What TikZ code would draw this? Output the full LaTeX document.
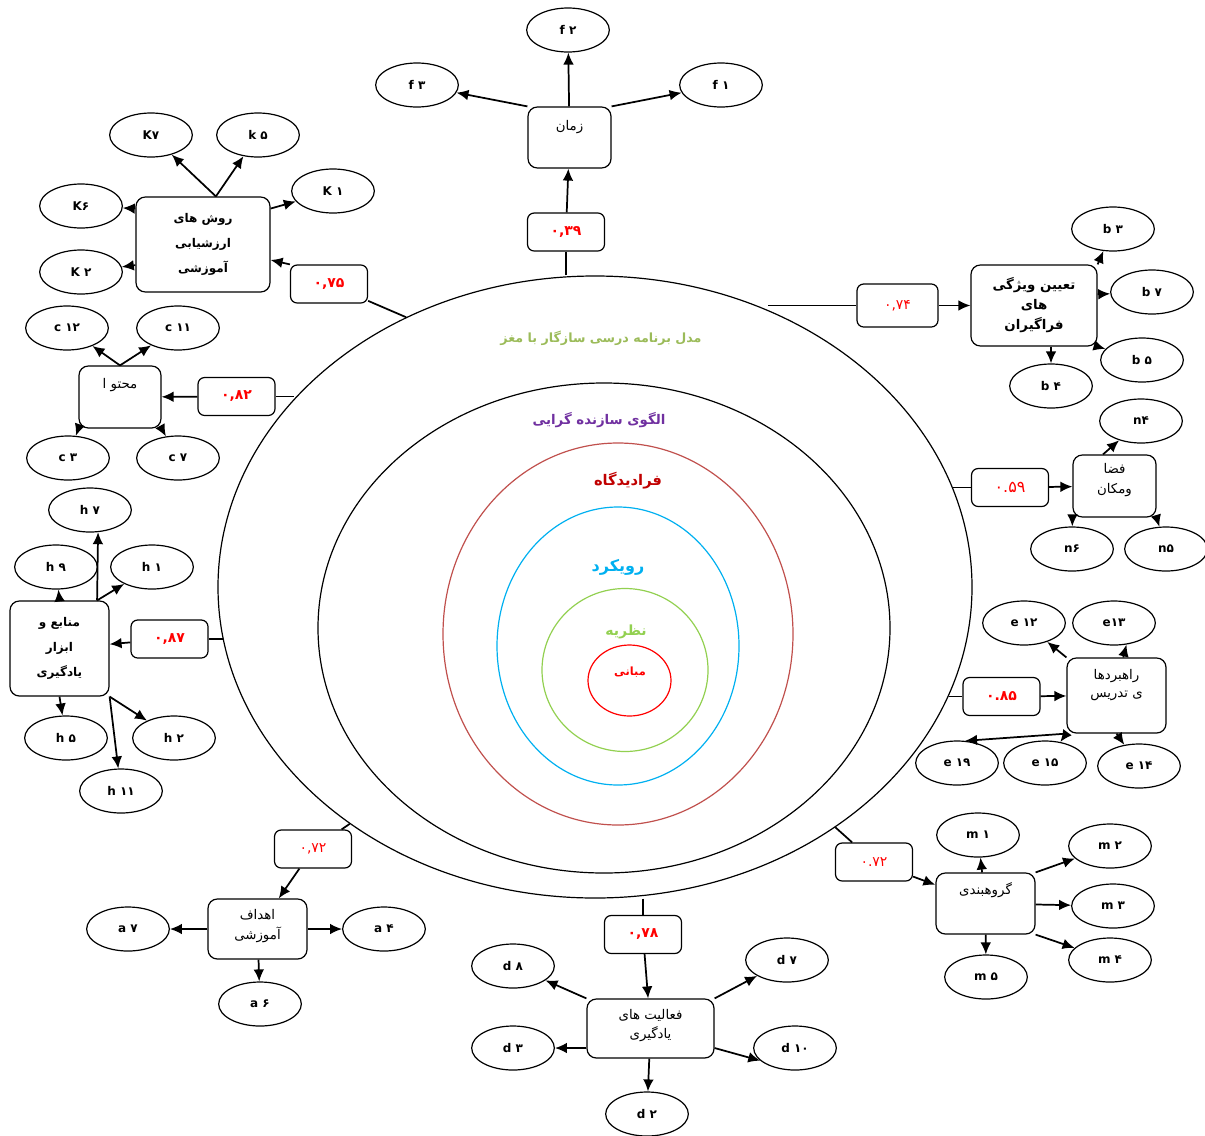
\documentclass[tikz,border=0pt]{standalone}
\usepackage{fontspec}
\setmainfont{DejaVu Sans}
\newfontfamily\fa[Script=Arabic]{DejaVu Sans}
\TeXXeTstate=1
\usetikzlibrary{shapes.geometric,arrows.meta}
\definecolor{olivegr}{HTML}{9BBB59}
\definecolor{violet}{HTML}{7030A0}
\definecolor{darkred}{HTML}{C00000}
\definecolor{skyblue}{HTML}{00B0F0}
\definecolor{leafgr}{HTML}{92D050}
\definecolor{brickred}{HTML}{C0504D}
\newcommand{\rtl}[1]{{\fa\beginR #1\endR}}

\begin{document}
\begin{tikzpicture}[x=0.75pt,y=-0.75pt,line width=1.3pt,
  >={Latex[length=9pt,width=8pt]},
  ring/.style={ellipse,draw,line width=0.9pt,inner sep=0pt},
  ringtext/.style={font=\bfseries\fontsize{10}{12}\selectfont},
  item/.style={ellipse,draw,line width=0.9pt,minimum width=62pt,minimum height=33pt,
    inner sep=0pt,font=\bfseries\fontsize{9}{11}\selectfont},
  topic/.style={draw,rounded corners=7pt,line width=0.9pt,inner sep=2pt,align=center,
    font=\fontsize{10}{14.5}\selectfont},
  coef/.style={draw,rounded corners=5pt,line width=0.9pt,minimum width=57.75pt,
    minimum height=28.5pt,text=red,font=\bfseries\fontsize{10.5}{12}\selectfont},
  lift/.style={text depth=#1}]
\useasboundingbox (0,0) rectangle (1205,1135);

% rings
\node[ring,minimum width=565.5pt,minimum height=466.5pt] (outer) at (595,587) {};
\node[ring,minimum width=429pt,minimum height=367.5pt] (second) at (604,628) {};
\node[ring,draw=brickred,minimum width=262.5pt,minimum height=286.5pt] (third) at (618,634) {};
\node[ring,draw=skyblue,minimum width=181.5pt,minimum height=208.5pt] (fourth) at (618,646) {};
\node[ring,draw=leafgr,minimum width=124.5pt,minimum height=122.25pt] (fifth) at (625,670) {};
\node[ring,draw=red,minimum width=62.25pt,minimum height=53.25pt] (core) at (629.5,680.5) {};

\node[ringtext,text=olivegr,font=\bfseries\fontsize{9.5}{11}\selectfont] (t1) at (601,338) {\rtl{مدل برنامه درسی سازگار با مغز}};
\node[ringtext,text=violet] (t2) at (599,420) {\rtl{الگوی سازنده گرایی}};
\node[ringtext,text=darkred,font=\bfseries\fontsize{11}{13}\selectfont] (t3) at (628,481) {\rtl{فرادیدگاه}};
\node[ringtext,text=skyblue,font=\bfseries\fontsize{12}{14}\selectfont] (t4) at (618,567) {\rtl{رویکرد}};
\node[ringtext,text=leafgr,font=\bfseries\fontsize{10.5}{12}\selectfont] (t5) at (626,632) {\rtl{نظریه}};
\node[ringtext,text=red,font=\bfseries\fontsize{8.5}{10}\selectfont] (t6) at (630,672) {\rtl{مبانی}};

% topics
\node[topic,minimum width=62.25pt,minimum height=45.75pt,lift=17.5pt] (zaman) at (569.5,137.5) {\rtl{زمان}};
\node[topic,minimum width=100.5pt,minimum height=71.25pt,font=\bfseries\fontsize{9}{18.75}\selectfont] (rawesh) at (203,244.5)
  {\rtl{روش های}\\\rtl{ارزشیابی}\\\rtl{آموزشی}};
\node[topic,minimum width=61.5pt,minimum height=46.5pt,lift=20.5pt] (mohtava) at (120,397) {\rtl{محتو ا}};
\node[topic,minimum width=94.5pt,minimum height=60.75pt,font=\bfseries\fontsize{10}{15}\selectfont] (taeen) at (1034,305.5)
  {\rtl{تعیین ویژگی}\\\rtl{های}\\\rtl{فراگیران}};
\node[topic,minimum width=62.25pt,minimum height=46.5pt,lift=11.5pt] (faza) at (1114.5,486) {\rtl{فضا}\\\rtl{ومکان}};
\node[topic,minimum width=74.25pt,minimum height=71.25pt,font=\bfseries\fontsize{9}{18.75}\selectfont] (manabe) at (59.5,648.5)
  {\rtl{منابع و}\\\rtl{ابزار}\\\rtl{یادگیری}};
\node[topic,minimum width=74.25pt,minimum height=56.25pt,lift=17.5pt,font=\fontsize{10}{13.5}\selectfont] (rahbord) at (1116.5,695.5) {\rtl{راهبردها}\\\rtl{ی تدریس}};
\node[topic,minimum width=74.25pt,minimum height=45.75pt,lift=22pt] (gorooh) at (985.5,903.5) {\rtl{گروهبندی}};
\node[topic,minimum width=74.25pt,minimum height=45pt,lift=7pt] (ahdaf) at (257.5,929) {\rtl{اهداف}\\\rtl{آموزشی}};
\node[topic,minimum width=95.25pt,minimum height=44.25pt,lift=7pt] (faaliat) at (650.5,1028.5) {\rtl{فعالیت های}\\\rtl{یادگیری}};

% coefficients
\node[coef] (n39) at (566,232) {۰,۳۹};
\node[coef] (n75) at (329,284) {۰,۷۵};
\node[coef] (n82) at (236.5,396.5) {۰,۸۲};
\node[coef,minimum width=60.75pt,minimum height=32.25pt,font=\fontsize{10.5}{12}\selectfont] (n74) at (897.5,305.5) {۰,۷۴};
\node[coef,font=\fontsize{12}{14}\selectfont] (n59) at (1010,487.5) {۰.۵۹};
\node[coef] (n87) at (169.5,639) {۰,۸۷};
\node[coef] (n85) at (1001.5,696.5) {۰.۸۵};
\node[coef,font=\fontsize{10.5}{12}\selectfont] (n72r) at (874,862) {۰.۷۲};
\node[coef,font=\fontsize{10.5}{12}\selectfont] (n72l) at (313,849) {۰,۷۲};
\node[coef] (n78) at (643,934.5) {۰,۷۸};

% items
\node[item] (f2) at (568,30) {f ۲};
\node[item] (f3) at (417,85) {f ۳};
\node[item] (f1) at (721,85) {f ۱};
\node[item] (k7) at (151,135) {K۷};
\node[item] (k5) at (258,135) {k ۵};
\node[item] (k1) at (333,191) {K ۱};
\node[item] (k6) at (81,206) {K۶};
\node[item] (k2) at (81,272) {K ۲};
\node[item] (c12) at (67,328) {c ۱۲};
\node[item] (c11) at (178,328) {c ۱۱};
\node[item] (c3) at (68,458) {c ۳};
\node[item] (c7) at (178,458) {c ۷};
\node[item] (b3) at (1113,229) {b ۳};
\node[item] (b7) at (1152,292) {b ۷};
\node[item] (b5) at (1142,360) {b ۵};
\node[item] (b4) at (1051,386) {b ۴};
\node[item] (nn4) at (1141,421) {n۴};
\node[item] (nn6) at (1072,549) {n۶};
\node[item] (nn5) at (1166,549) {n۵};
\node[item] (h7) at (90,510) {h ۷};
\node[item] (h9) at (56,567) {h ۹};
\node[item] (h1) at (152,567) {h ۱};
\node[item] (h5) at (66,738) {h ۵};
\node[item] (h2) at (174,738) {h ۲};
\node[item] (h11) at (121,791) {h ۱۱};
\node[item] (e12) at (1024,623) {e ۱۲};
\node[item] (e13) at (1114,623) {e۱۳};
\node[item] (e19) at (957,763) {e ۱۹};
\node[item] (e15) at (1045,763) {e ۱۵};
\node[item] (e14) at (1139,766) {e ۱۴};
\node[item] (m1) at (978,835) {m ۱};
\node[item] (m2) at (1110,846) {m ۲};
\node[item] (m3) at (1113,906) {m ۳};
\node[item] (m4) at (1110,960) {m ۴};
\node[item] (m5) at (986,977) {m ۵};
\node[item] (a7) at (128,929) {a ۷};
\node[item] (a4) at (384,929) {a ۴};
\node[item] (a6) at (260,1004) {a ۶};
\node[item] (d8) at (513,966) {d ۸};
\node[item] (d7) at (787,960) {d ۷};
\node[item] (d3) at (513,1048) {d ۳};
\node[item] (d10) at (795,1048) {d ۱۰};
\node[item] (d2) at (647,1114) {d ۲};

% ring to coefficients
\path
  (n39.south |- outer.north) edge (n39)
  (outer.125) edge (n75)
  (n82.east -| outer.148) edge (n82.east)
  (n74.west -| outer.58) edge (n74.west)
  (n59.west -| outer.16) edge (n59.west)
  (n87.east -| outer.188) edge (n87.east)
  (n85.west -| outer.343) edge (n85.west)
  (outer.315) edge (n72r)
  (outer.224) edge (n72l)
  (n78.north |- outer.south) edge (n78);

% coefficients to topics
\path[->]
  (n39) edge (zaman)
  (n75.north west) edge (rawesh)
  (n82) edge (mohtava)
  (n74) edge (taeen)
  (n59) edge (faza)
  (n87) edge (manabe)
  (n85) edge (rahbord)
  (n72r) edge (gorooh)
  (n72l) edge (ahdaf)
  (n78) edge (faaliat);

% topics to items
\path[->]
  (zaman) edge (f2)
  (zaman.north west) edge (f3)
  (zaman.north east) edge (f1)
  (rawesh.75) edge (k7) edge (k5)
  (rawesh.28) edge (k1)
  (rawesh.152) edge (k6)
  (rawesh.197) edge (k2)
  (mohtava.north) edge (c12) edge (c11)
  (mohtava.south west) edge (c3)
  (mohtava.south east) edge (c7)
  (taeen.north east) edge (b3)
  (taeen.10) edge (b7)
  (taeen.south east) edge (b5)
  (b4 |- taeen.south) edge (b4)
  (faza.110) edge (nn4)
  (faza.south west) edge (nn6)
  (faza.south east) edge (nn5)
  (manabe.52) edge (h7.290) edge (h1)
  (manabe.north) edge (h9)
  (manabe.south) edge (h5)
  (manabe.south east) edge (h2) edge (h11)
  (rahbord.north west) edge (e12)
  (rahbord.80) edge (e13.300)
  (rahbord.south west) edge (e19.70) edge (e15)
  (rahbord.south) edge (e14)
  (gorooh) edge (m1)
  (gorooh.north east) edge (m2)
  (gorooh) edge (m3)
  (gorooh.south east) edge (m4)
  (gorooh) edge (m5)
  (ahdaf) edge (a7) edge (a4) edge (a6)
  (faaliat.north west) edge (d8)
  (faaliat.north east) edge (d7)
  (faaliat.west |- d3) edge (d3)
  (faaliat.east |- d3) edge (d10.200)
  (faaliat) edge (d2);
\end{tikzpicture}
\end{document}
